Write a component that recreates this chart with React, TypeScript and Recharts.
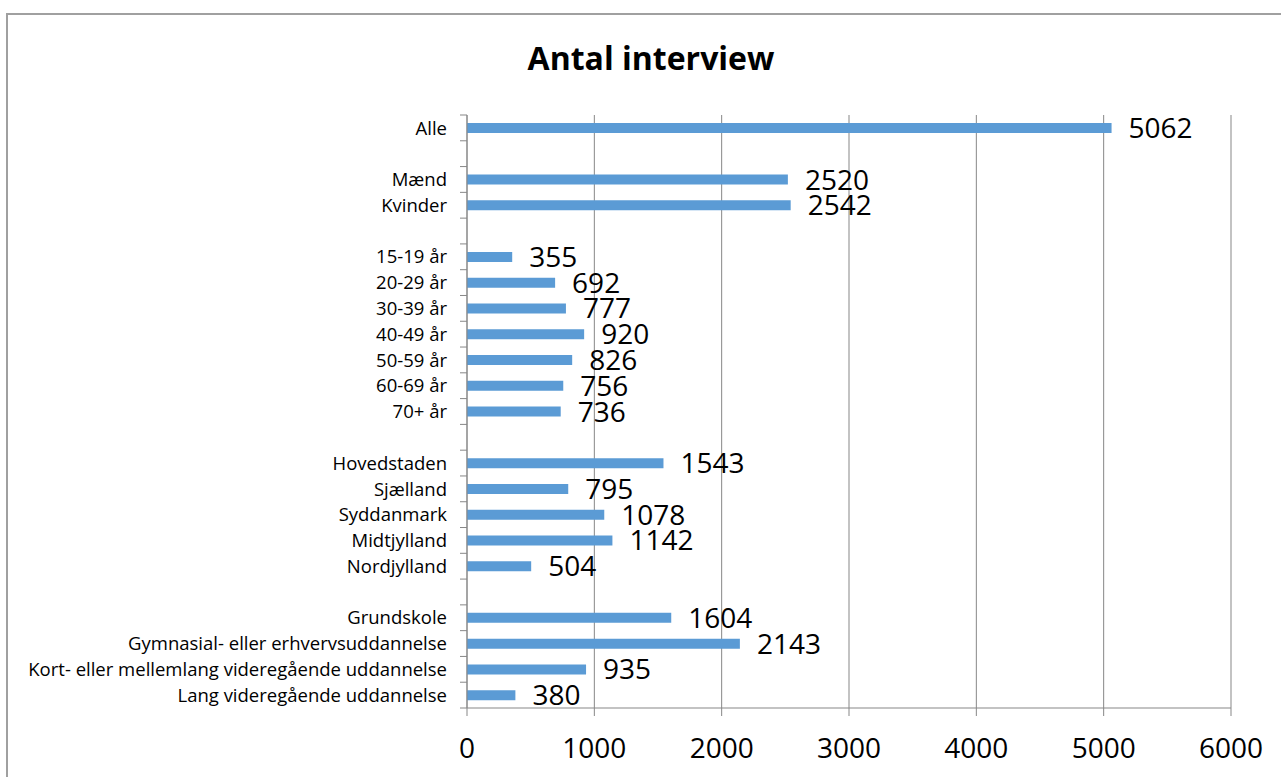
import React from 'react';
import { BarChart, Bar, XAxis, YAxis, CartesianGrid, LabelList } from 'recharts';

const categories: string[] = [
  'Alle',
  '',
  'Mænd',
  'Kvinder',
  '',
  '15-19 år',
  '20-29 år',
  '30-39 år',
  '40-49 år',
  '50-59 år',
  '60-69 år',
  '70+ år',
  '',
  'Hovedstaden',
  'Sjælland',
  'Syddanmark',
  'Midtjylland',
  'Nordjylland',
  '',
  'Grundskole',
  'Gymnasial- eller erhvervsuddannelse',
  'Kort- eller mellemlang videregående uddannelse',
  'Lang videregående uddannelse',
];

const interviews: (number | null)[] = [
  5062,
  null,
  2520,
  2542,
  null,
  355,
  692,
  777,
  920,
  826,
  756,
  736,
  null,
  1543,
  795,
  1078,
  1142,
  504,
  null,
  1604,
  2143,
  935,
  380,
];

const xTicks: number[] = [0, 1000, 2000, 3000, 4000, 5000, 6000];

const chartTitle = 'Antal interview';

const data = categories.map((name, i) => ({ id: i, name, value: interviews[i] }));

const W = 1281;
const H = 777;
const MARGIN = { top: 115, right: 50, bottom: 9, left: 0 };
const Y_AXIS_W = 467;
const X_AXIS_H = 60;
const PLOT_H = H - MARGIN.top - MARGIN.bottom - X_AXIS_H;
const GRID = '#878787';
const FONT = '"Open Sans", sans-serif';

const CategoryTick = (props: any) => {
  const { x, y, payload, index } = props;
  const band = PLOT_H / categories.length;
  const label = categories[payload.value] ?? '';
  return (
    <g>
      <line x1={x - 7} x2={x} y1={y - band / 2} y2={y - band / 2} stroke={GRID} strokeWidth={1} />
      {index === categories.length - 1 && (
        <line x1={x - 7} x2={x} y1={y + band / 2} y2={y + band / 2} stroke={GRID} strokeWidth={1} />
      )}
      <text
        x={x - 20}
        y={y}
        dy="0.36em"
        textAnchor="end"
        fill="#000"
        fontSize={18.5}
        fontFamily={FONT}
      >
        {label}
      </text>
    </g>
  );
};

export default function App() {
  return (
    <div
      style={{
        position: 'absolute',
        left: 0,
        top: 0,
        width: W,
        height: H,
        overflow: 'hidden',
        background: '#fff',
      }}
    >
      <div
        style={{
          position: 'absolute',
          left: 6,
          top: 13,
          width: W + 20,
          height: H + 20,
          borderLeft: '2px solid #a0a0a0',
          borderTop: '2px solid #a0a0a0',
          boxSizing: 'border-box',
        }}
      />
      <div
        style={{
          position: 'absolute',
          left: 0,
          top: 38,
          width: 1302,
          textAlign: 'center',
          fontFamily: FONT,
          fontWeight: 700,
          fontSize: 32,
          lineHeight: '40px',
          color: '#000',
        }}
      >
        {chartTitle}
      </div>
      <div style={{ position: 'absolute', left: 0, top: 0 }}>
        <BarChart
          width={W}
          height={H}
          data={data}
          layout="vertical"
          margin={MARGIN}
          barSize={10}
        >
          <CartesianGrid horizontal={false} vertical={true} stroke={GRID} strokeWidth={1} />
          <XAxis
            type="number"
            domain={[0, 6000]}
            ticks={xTicks}
            interval={0}
            height={X_AXIS_H}
            axisLine={{ stroke: GRID, strokeWidth: 1 }}
            tickLine={{ stroke: GRID, strokeWidth: 1 }}
            tickSize={8}
            tickMargin={22}
            tick={{ fill: '#000', fontSize: 28, fontFamily: FONT }}
          />
          <YAxis
            type="category"
            dataKey="id"
            width={Y_AXIS_W}
            interval={0}
            axisLine={{ stroke: GRID, strokeWidth: 1 }}
            tickLine={false}
            tickSize={0}
            tickMargin={0}
            tick={<CategoryTick />}
          />
          <Bar dataKey="value" fill="#5B9BD5" isAnimationActive={false}>
            <LabelList
              dataKey="value"
              position="right"
              offset={17}
              fill="#000"
              fontSize={28}
              fontFamily={FONT}
            />
          </Bar>
        </BarChart>
      </div>
    </div>
  );
}
